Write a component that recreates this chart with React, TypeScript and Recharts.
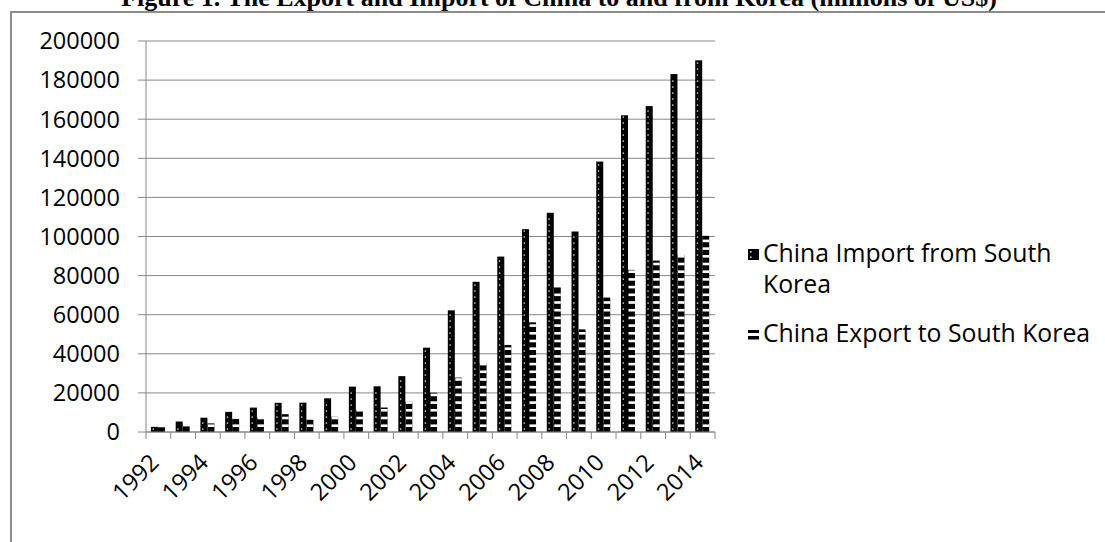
import React from 'react';
import { BarChart, Bar, XAxis, YAxis, CartesianGrid, Legend } from 'recharts';

// China trade with South Korea, millions of US$
const years = [
  '1992', '1993', '1994', '1995', '1996', '1997', '1998', '1999', '2000', '2001', '2002', '2003',
  '2004', '2005', '2006', '2007', '2008', '2009', '2010', '2011', '2012', '2013', '2014',
];
const importFromKorea = [
  2623, 5360, 7318, 10293, 12482, 14930, 15014, 17227, 23208, 23377, 28568, 43128,
  62234, 76820, 89724, 103752, 112138, 102552, 138340, 162000, 166700, 183073, 190110,
];
const exportToKorea = [
  2405, 2860, 4402, 6689, 7501, 9116, 6251, 7808, 11293, 12521, 15535, 20095,
  27818, 35108, 44522, 56099, 73932, 52500, 68766, 82924, 87673, 90500, 100334,
];
const yTicks = [0, 20000, 40000, 60000, 80000, 100000, 120000, 140000, 160000, 180000, 200000];

const importName = 'China Import from South Korea';
const exportName = 'China Export to South Korea';
const title = 'Figure 1. The Export and Import of China to and from Korea (millions of US$)';

const data = years.map((year, i) => ({
  year,
  imp: importFromKorea[i],
  exp: exportToKorea[i],
}));

const FONT = '"Open Sans", sans-serif';
const GRID = '#888888';

// black bar with a column of small light dots
const DottedBar = (props: any) => {
  const { x, y, width, height } = props;
  if (!height || height <= 0) return null;
  const dots = [];
  for (let d = 3; d < height - 1.5; d += 6) {
    dots.push(
      <rect key={d} x={x + 1.6} y={y + height - d - 0.6} width={1.4} height={1.4} fill="#d4d4d4" />
    );
  }
  return (
    <g>
      <rect x={x} y={y} width={width} height={height} fill="#000" />
      {dots}
    </g>
  );
};

// black bar cut by thin white horizontal stripes
const StripedBar = (props: any) => {
  const { x, y, width, height } = props;
  if (!height || height <= 0) return null;
  const gaps = [];
  for (let d = 5; d < height - 1; d += 7.7) {
    gaps.push(
      <rect key={d} x={x + 0.5} y={y + height - d - 2.6} width={width - 0.5} height={2.6} fill="#fff" />
    );
  }
  return (
    <g>
      <rect x={x} y={y} width={width} height={height} fill="#000" />
      {gaps}
    </g>
  );
};

// tick marks sit between categories, labels on every second year
const YearTick = (props: any) => {
  const { x, y, payload, index } = props;
  const half = payload?.offset ?? 0;
  const last = index === years.length - 1;
  return (
    <g>
      <line x1={x - half} x2={x - half} y1={y} y2={y + 7} stroke={GRID} />
      {last && <line x1={x + half} x2={x + half} y1={y} y2={y + 7} stroke={GRID} />}
      {index % 2 === 0 && (
        <text
          x={0}
          y={0}
          transform={`translate(${x + 2},${y + 32}) rotate(-45)`}
          textAnchor="end"
          fontFamily={FONT}
          fontSize={23.5}
          fill="#000"
        >
          {payload.value}
        </text>
      )}
    </g>
  );
};

const renderLegend = () => (
  <svg width={360} height={136} style={{ display: 'block' }}>
    <rect x={0} y={16} width={11} height={11} fill="#000" />
    <rect x={2} y={18} width={1.6} height={1.6} fill="#ddd" />
    <rect x={2} y={23.5} width={1.6} height={1.6} fill="#ddd" />
    <text x={15} y={29} fontFamily={FONT} fontSize={24.8} fill="#000">China Import from South</text>
    <text x={15} y={60} fontFamily={FONT} fontSize={24.8} fill="#000">Korea</text>
    <rect x={0} y={97} width={11} height={3} fill="#000" />
    <rect x={0} y={103} width={11} height={3.5} fill="#000" />
    <text x={15} y={109} fontFamily={FONT} fontSize={24.8} fill="#000">China Export to South Korea</text>
  </svg>
);

export default function App() {
  return (
    <div style={{ position: 'absolute', left: 0, top: 0, width: 1105, height: 542, overflow: 'hidden', background: '#fff' }}>
      <div
        style={{
          position: 'absolute',
          left: 10,
          top: 11,
          width: 1300,
          height: 800,
          border: '2px solid #8c8c8c',
          boxSizing: 'border-box',
        }}
      />
      <svg width={1105} height={20} style={{ position: 'absolute', left: 0, top: 0 }}>
        <text
          x={559}
          y={6}
          textAnchor="middle"
          fontFamily='"Liberation Serif", serif'
          fontWeight="bold"
          fontSize={26}
          fill="#000"
        >
          {title}
        </text>
      </svg>
      <div style={{ position: 'absolute', left: 0, top: 0 }}>
        <BarChart
          width={1105}
          height={542}
          data={data}
          margin={{ top: 41, right: 390, bottom: 40, left: 46 }}
          barCategoryGap="20%"
          barGap={0}
        >
          <CartesianGrid vertical={false} stroke={GRID} />
          <XAxis
            dataKey="year"
            interval={0}
            height={70}
            tickSize={0}
            tickMargin={0}
            tickLine={false}
            axisLine={{ stroke: GRID }}
            tick={<YearTick />}
          />
          <YAxis
            width={100}
            domain={[0, 200000]}
            ticks={yTicks}
            interval={0}
            tickSize={8}
            tickMargin={18}
            axisLine={{ stroke: GRID }}
            tickLine={{ stroke: GRID }}
            tick={{ fill: '#000', fontFamily: FONT, fontSize: 23.5 }}
          />
          <Legend
            layout="vertical"
            align="center"
            verticalAlign="middle"
            content={renderLegend}
            wrapperStyle={{ left: 748, top: 233, width: 357 }}
          />
          <Bar dataKey="imp" name={importName} shape={<DottedBar />} isAnimationActive={false} />
          <Bar dataKey="exp" name={exportName} shape={<StripedBar />} isAnimationActive={false} />
        </BarChart>
      </div>
    </div>
  );
}
